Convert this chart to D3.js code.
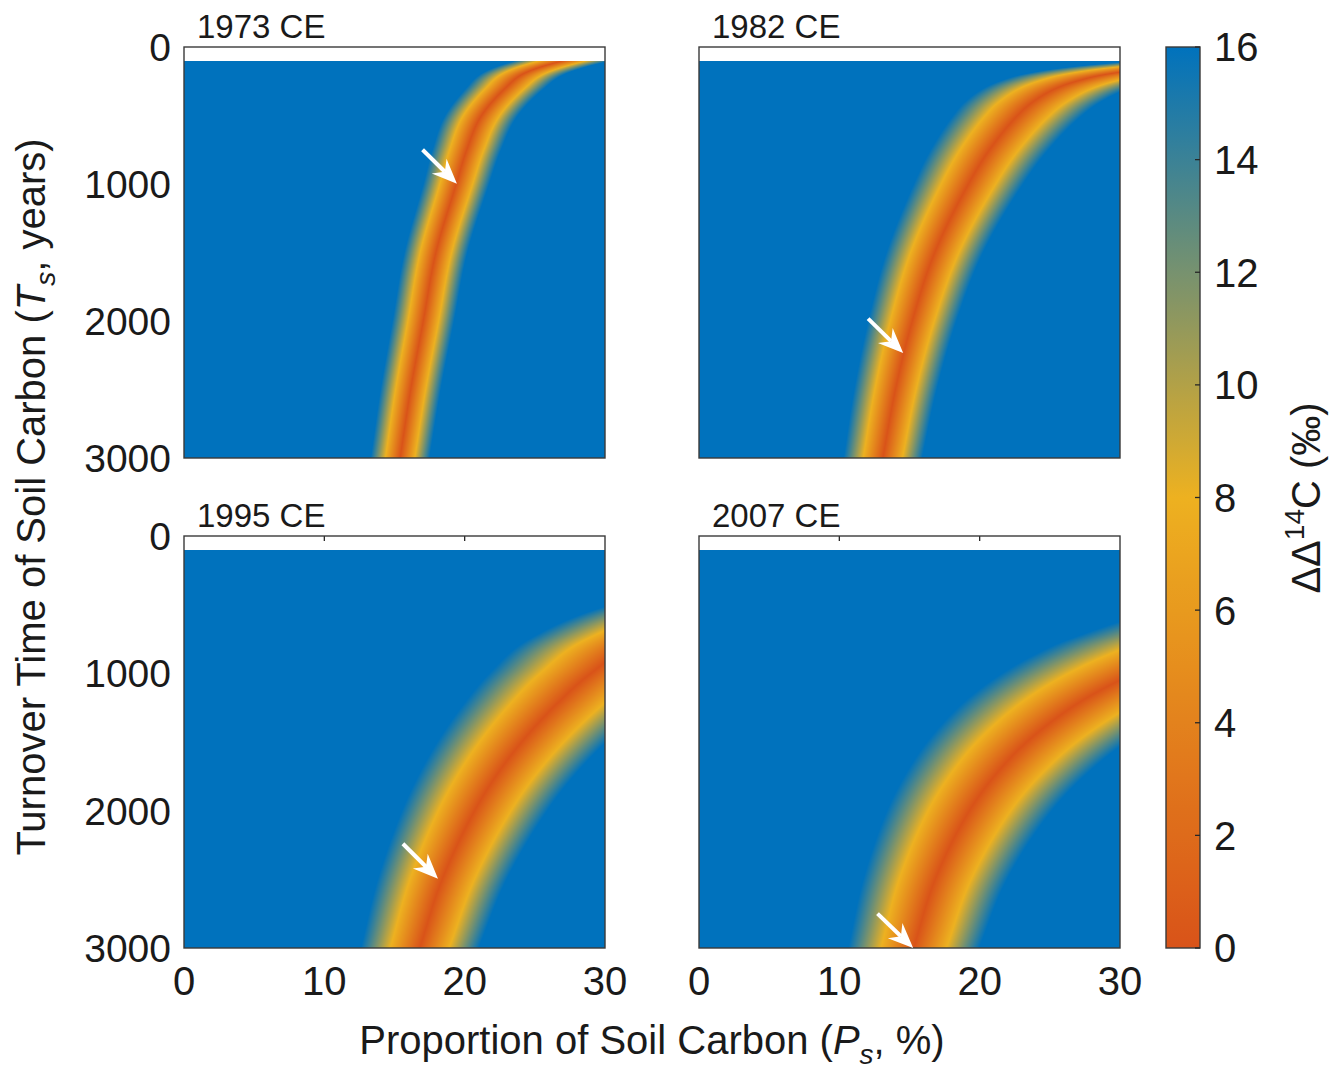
<!DOCTYPE html>
<html><head><meta charset="utf-8">
<script src="https://cdn.jsdelivr.net/npm/d3@7"></script>
<style>
body{margin:0;background:#fff}
svg{display:block}
text{font-family:"Liberation Sans",Arial,Helvetica,sans-serif;fill:#1a1a1a}
</style>
</head><body>
<svg id="chart" width="1330" height="1074"></svg>
<script>
// ---------------- data ----------------
const panelTitles = ["1973 CE", "1982 CE", "1995 CE", "2007 CE"];
const xTicks = [0, 10, 20, 30];
const yTicks = [0, 1000, 2000, 3000];
const cbTicks = [0, 2, 4, 6, 8, 10, 12, 14, 16];
const tStart = 100;          // first modelled turnover time (years)
const ddMax = 16;            // colour-scale saturation (‰)

// ridge of ΔΔ14C = 0: turnover time (years) -> proportion of soil carbon (%)
// and half-width (%) of the band at which ΔΔ14C reaches 16 ‰
const ridgeT_1973 = [100, 150, 200, 300, 500, 750, 1000, 1500, 2000, 2500, 3000];
const ridgeP_1973 = [27.0, 25.3, 24.1, 22.9, 21.2, 20.15, 19.4, 17.95, 17.05, 16.15, 15.4];
const halfW_1973  = [3.4, 3.2, 3.0, 2.8, 2.6, 2.45, 2.35, 2.25, 2.2, 2.15, 2.1];

const ridgeT_1982 = [100, 150, 200, 250, 300, 400, 500, 750, 1000, 1500, 2000, 2500, 3000];
const ridgeP_1982 = [39.2, 32.8, 29.0, 26.9, 25.5, 23.8, 22.7, 20.7, 19.2, 16.8, 15.2, 14.0, 13.1];
const halfW_1982  = [8.0, 6.7, 5.95, 5.5, 5.2, 4.85, 4.6, 4.2, 3.9, 3.45, 3.15, 2.95, 2.8];

const ridgeT_1995 = [100, 250, 500, 750, 1000, 1250, 1500, 1750, 2000, 2500, 3000];
const ridgeP_1995 = [74.6, 55.9, 40.6, 32.8, 29.0, 26.3, 24.06, 22.21, 20.71, 18.4, 16.8];
const halfW_1995  = [18.65, 13.98, 10.15, 8.2, 7.25, 6.58, 6.02, 5.55, 5.18, 4.6, 4.2];

const ridgeT_2007 = [100, 300, 500, 750, 875, 1000, 1125, 1250, 1500, 1750, 2000, 2500, 3000];
const ridgeP_2007 = [109, 67.9, 49.9, 38.0, 34.1, 31.06, 28.57, 26.52, 23.35, 21.03, 19.27, 16.83, 15.3];
const halfW_2007  = [33.2, 20.7, 15.2, 11.6, 10.4, 9.47, 8.71, 8.09, 7.12, 6.41, 5.88, 5.13, 4.67];

// white arrows: [tail P, tail T, tip P, tip T]
const arrow_1973 = [17.0, 750, 19.45, 998];
const arrow_1982 = [12.05, 1983, 14.55, 2234];
const arrow_1995 = [15.6, 2241, 18.1, 2496];
const arrow_2007 = [12.72, 2750, 15.26, 3000];

const colorStops = [0, 8, 16];
const colorValues = ["#d95319", "#edb120", "#0072bd"];

// ---------------- helpers ----------------
function monotone(xs, ys) {
  const n = xs.length, d = [], m = new Array(n);
  for (let i = 0; i < n - 1; i++) d[i] = (ys[i + 1] - ys[i]) / (xs[i + 1] - xs[i]);
  m[0] = d[0]; m[n - 1] = d[n - 2];
  for (let i = 1; i < n - 1; i++) m[i] = d[i - 1] * d[i] <= 0 ? 0 : (d[i - 1] + d[i]) / 2;
  for (let i = 0; i < n - 1; i++) {
    if (d[i] === 0) { m[i] = 0; m[i + 1] = 0; continue; }
    const a = m[i] / d[i], b = m[i + 1] / d[i], s = a * a + b * b;
    if (s > 9) { const t = 3 / Math.sqrt(s); m[i] = t * a * d[i]; m[i + 1] = t * b * d[i]; }
  }
  return function (x) {
    let i = d3.bisectRight(xs, x) - 1;
    i = Math.max(0, Math.min(n - 2, i));
    const h = xs[i + 1] - xs[i], t = (x - xs[i]) / h;
    const t2 = t * t, t3 = t2 * t;
    return (2 * t3 - 3 * t2 + 1) * ys[i] + (t3 - 2 * t2 + t) * h * m[i] +
           (-2 * t3 + 3 * t2) * ys[i + 1] + (t3 - t2) * h * m[i + 1];
  };
}

const color = d3.scaleLinear().domain(colorStops).range(colorValues)
  .interpolate(d3.interpolateRgb).clamp(true);
const LUTN = 1024;
const lut = d3.range(LUTN + 1).map(k => d3.rgb(color(k / LUTN * ddMax)));

const svg = d3.select("#chart");
const axisColor = "#262626";

const panels = [
  { title: panelTitles[0], T: ridgeT_1973, P: ridgeP_1973, W: halfW_1973, arrow: arrow_1973, col: 0, row: 0 },
  { title: panelTitles[1], T: ridgeT_1982, P: ridgeP_1982, W: halfW_1982, arrow: arrow_1982, col: 1, row: 0 },
  { title: panelTitles[2], T: ridgeT_1995, P: ridgeP_1995, W: halfW_1995, arrow: arrow_1995, col: 0, row: 1 },
  { title: panelTitles[3], T: ridgeT_2007, P: ridgeP_2007, W: halfW_2007, arrow: arrow_2007, col: 1, row: 1 }
];
const colX = [[184, 605], [699, 1120]];
const rowY = [[47, 458], [536, 948]];

panels.forEach(p => {
  const x = d3.scaleLinear().domain([0, 30]).range(colX[p.col]);
  const y = d3.scaleLinear().domain([0, 3000]).range(rowY[p.row]);
  const ridge = monotone(p.T, p.P), half = monotone(p.T, p.W);
  const g = svg.append("g");

  // heat-map field
  const px0 = Math.round(x(0)), px1 = Math.round(x(30));
  const py0 = Math.round(y(tStart)), py1 = Math.round(y(3000));
  const cw = px1 - px0, ch = py1 - py0;
  const canvas = document.createElement("canvas");
  canvas.width = cw; canvas.height = ch;
  const ctx = canvas.getContext("2d");
  const img = ctx.createImageData(cw, ch);
  for (let j = 0; j < ch; j++) {
    const T = y.invert(py0 + j + 0.5);
    const c = ridge(T), w = half(T);
    for (let i = 0; i < cw; i++) {
      const P = x.invert(px0 + i + 0.5);
      const v = Math.min(ddMax, ddMax * Math.abs(P - c) / w);
      const col = lut[Math.round(v / ddMax * LUTN)];
      const k = (j * cw + i) * 4;
      img.data[k] = col.r; img.data[k + 1] = col.g; img.data[k + 2] = col.b; img.data[k + 3] = 255;
    }
  }
  ctx.putImageData(img, 0, 0);
  g.append("image").attr("x", px0).attr("y", py0).attr("width", cw).attr("height", ch)
    .attr("preserveAspectRatio", "none").attr("href", canvas.toDataURL());

  // top ticks visible in the white strip (bottom row only)
  if (p.row === 1) {
    g.selectAll(".tt").data(xTicks.slice(1, 3)).enter().append("line")
      .attr("x1", d => x(d)).attr("x2", d => x(d))
      .attr("y1", y(0)).attr("y2", y(0) + 5)
      .attr("stroke", axisColor).attr("stroke-width", 1.3);
  }

  // box
  g.append("rect").attr("x", x(0)).attr("y", y(0)).attr("width", x(30) - x(0)).attr("height", y(3000) - y(0))
    .attr("fill", "none").attr("stroke", "#3a3a3a").attr("stroke-width", 1.4);

  // title
  g.append("text").attr("x", x(0) + 13).attr("y", y(0) - 9).attr("font-size", 33).text(p.title);

  // y tick labels (left column)
  if (p.col === 0) {
    g.selectAll(".yl").data(yTicks).enter().append("text")
      .attr("x", x(0) - 13).attr("y", d => y(d)).attr("dy", "0.36em")
      .attr("text-anchor", "end").attr("font-size", 39).text(d => d);
  }
  // x tick labels (bottom row)
  if (p.row === 1) {
    g.selectAll(".xl").data(xTicks).enter().append("text")
      .attr("x", d => x(d)).attr("y", y(3000) + 47)
      .attr("text-anchor", "middle").attr("font-size", 40).text(d => d);
  }

  // arrow
  const [tp, tt, hp, ht] = p.arrow;
  const ax0 = x(tp), ay0 = y(tt), ax1 = x(hp), ay1 = y(ht);
  const len = Math.hypot(ax1 - ax0, ay1 - ay0);
  const ux = (ax1 - ax0) / len, uy = (ay1 - ay0) / len, nx = -uy, ny = ux;
  const L = 25, Hh = 10.5, notch = 8;
  const bx = ax1 - L * ux, by = ay1 - L * uy;
  const nxp = ax1 - (L - notch) * ux, nyp = ay1 - (L - notch) * uy;
  g.append("line").attr("x1", ax0).attr("y1", ay0).attr("x2", nxp).attr("y2", nyp)
    .attr("stroke", "#fff").attr("stroke-width", 4);
  g.append("polygon").attr("fill", "#fff")
    .attr("points", [[ax1, ay1], [bx + Hh * nx, by + Hh * ny], [nxp, nyp], [bx - Hh * nx, by - Hh * ny]].map(q => q.join(",")).join(" "));
});

// axis titles
const yTitle = svg.append("text").attr("transform", "translate(45,497) rotate(-90)")
  .attr("text-anchor", "middle").attr("font-size", 40);
yTitle.append("tspan").text("Turnover Time of Soil Carbon (");
yTitle.append("tspan").attr("font-style", "italic").text("T");
yTitle.append("tspan").attr("font-style", "italic").attr("font-size", 28).attr("dy", 10).text("s");
yTitle.append("tspan").attr("dy", -10).text(", years)");

const xTitle = svg.append("text").attr("x", 652).attr("y", 1054)
  .attr("text-anchor", "middle").attr("font-size", 40);
xTitle.append("tspan").text("Proportion of Soil Carbon (");
xTitle.append("tspan").attr("font-style", "italic").text("P");
xTitle.append("tspan").attr("font-style", "italic").attr("font-size", 28).attr("dy", 10).text("s");
xTitle.append("tspan").attr("dy", -10).text(", %)");

// colour bar
const cb = { x0: 1166, x1: 1200 };
const cbScale = d3.scaleLinear().domain([0, 16]).range([948, 47]);
const defs = svg.append("defs");
const grad = defs.append("linearGradient").attr("id", "cbgrad")
  .attr("x1", 0).attr("y1", 1).attr("x2", 0).attr("y2", 0);
grad.selectAll("stop").data(d3.range(0, 16.001, 0.5)).enter().append("stop")
  .attr("offset", d => d / 16).attr("stop-color", d => color(d));
svg.append("rect").attr("x", cb.x0).attr("y", cbScale(16)).attr("width", cb.x1 - cb.x0)
  .attr("height", cbScale(0) - cbScale(16)).attr("fill", "url(#cbgrad)")
  .attr("stroke", "#3a3a3a").attr("stroke-width", 1.4);
svg.selectAll(".cbt").data(cbTicks).enter().append("line")
  .attr("x1", cb.x1 - 5).attr("x2", cb.x1).attr("y1", d => cbScale(d)).attr("y2", d => cbScale(d))
  .attr("stroke", axisColor).attr("stroke-width", 1.3);
svg.selectAll(".cbl").data(cbTicks).enter().append("text")
  .attr("x", 1214).attr("y", d => cbScale(d)).attr("dy", "0.36em")
  .attr("font-size", 40).text(d => d);
const cbTitle = svg.append("text").attr("transform", "translate(1320,498) rotate(-90)")
  .attr("text-anchor", "middle").attr("font-size", 40);
cbTitle.append("tspan").text("ΔΔ");
cbTitle.append("tspan").attr("font-size", 28).attr("dy", -16).text("14");
cbTitle.append("tspan").attr("dy", 16).text("C (‰)");
</script>
</body></html>
